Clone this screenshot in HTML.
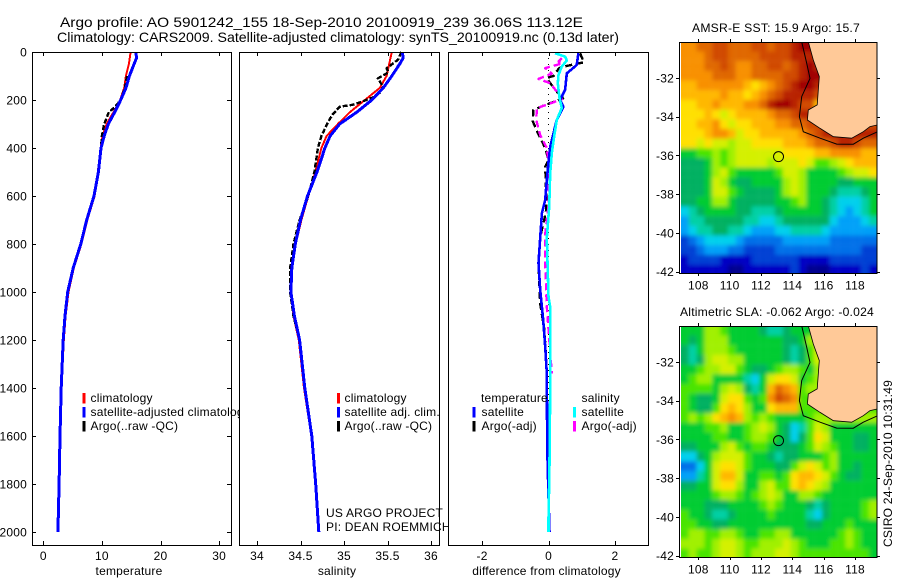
<!DOCTYPE html>
<html>
<head>
<meta charset="utf-8">
<title>Argo profile</title>
<style>
html,body{margin:0;padding:0;background:#fff;width:900px;height:580px;overflow:hidden}
svg{display:block}
text{font-family:"Liberation Sans",sans-serif;font-size:12px;fill:#000;letter-spacing:.2px}
</style>
</head>
<body>
<svg id="chart" xmlns="http://www.w3.org/2000/svg" width="900" height="580" viewBox="0 0 900 580">
<rect x="0" y="0" width="900" height="580" fill="#fff"/>
<text x="60" y="27" style="font-size:14px;letter-spacing:0" textLength="523" lengthAdjust="spacingAndGlyphs">Argo profile: AO 5901242_155 18-Sep-2010 20100919_239 36.06S 113.12E</text>
<text x="57" y="42" style="font-size:14px;letter-spacing:0" textLength="562" lengthAdjust="spacingAndGlyphs">Climatology: CARS2009. Satellite-adjusted climatology: synTS_20100919.nc (0.13d later)</text>
</svg>
<script>
// ---- profile data ----
const depthTicks = [0,200,400,600,800,1000,1200,1400,1600,1800,2000];
const tempTicks = [0,10,20,30];
const salTicks = [34,34.5,35,35.5,36];
const salTickLabels = ['34','34.5','35','35.5','36'];
const diffTicks = [-2,0,2];
const diffTickLabels = ['-2','0','2'];

const tempClimDepth = [0,50,100,150,200,250,300,350,400,500,600,700,800,900,1000,1100,1200,1400,1600,1800];
const tempClim = [14.9,14.6,14.1,13.8,13.1,12,10.8,10.1,9.8,9.3,8.75,7.5,6.5,5.2,4.3,3.8,3.5,3.1,2.85,2.8];
const tempSatDepth = [0,25,50,100,150,200,250,300,350,400,500,600,700,800,900,1000,1100,1200,1400,1600,1800,2000];
const tempSat = [15.8,15.9,15.5,14.7,14.1,13.2,12.2,11.1,10.4,9.85,9.4,8.65,7.4,6.4,5.1,4.17,3.7,3.4,3.05,2.85,2.7,2.5];
const tempArgoDepth = [100,150,200,230,250,275,300,350,400,500,600];
const tempArgo = [14.3,13.9,13.2,12.2,11.2,10.8,10.4,10,9.85,9.4,8.7];

const salClimDepth = [0,50,100,150,200,250,300,350,400,500,600,700,800,900,1000,1100,1200,1400,1600,1800,2000];
const salClim = [35.55,35.52,35.49,35.41,35.24,35.07,34.93,34.8,34.74,34.67,34.59,34.51,34.445,34.405,34.39,34.42,34.48,34.54,34.625,34.67,34.715];
const salSatDepth = [0,25,50,100,150,200,250,300,350,400,500,600,700,800,900,1000,1100,1200,1400,1600,1800,2000];
const salSat = [35.67,35.68,35.64,35.55,35.45,35.32,35.15,34.95,34.84,34.78,34.69,34.58,34.5,34.44,34.4,34.39,34.43,34.49,34.55,34.63,34.675,34.71];
const salArgoDepth = [0,33,68,85,110,145,170,190,205,220,228,260,290,350,400,500,600,700,800,900,1000,1100,1200];
const salArgo = [35.66,35.62,35.49,35.51,35.39,35.45,35.41,35.33,35.22,35.1,34.95,34.87,34.82,34.74,34.7,34.66,34.59,34.49,34.42,34.38,34.38,34.42,34.49];

const diffTempSatDepth = [5,54,89,158,200,228,283,311,395,457,533,617,672,775,879,992,1117,1228,1338,1644,1853,2000];
const diffTempSat = [0.9,0.85,0.55,0.5,0.35,0.45,0.25,0.2,0.05,0,-0.05,-0.1,-0.2,-0.25,-0.3,-0.25,-0.16,-0.1,-0.05,-0.04,0,0.03];
const diffSalSatDepth = [5,19,35,61,96,130,192,233,283,353,422,505,645,775,1020,1062,1400,1715,1950,2000];
const diffSalSat = [0.2,0.5,0.55,0.4,0.3,0.28,0.33,0.4,0.25,0.17,0.1,0.05,0.02,-0.05,0,0.05,0.05,0.03,0,0];
const diffTempArgoDepth = [5,43,58,67,100,108,130,165,193,224,242,290,338,400,450,478,589,658,700,770,880,1050,1160,1340];
const diffTempArgo = [0.95,1.07,0.55,0.32,0.15,-0.05,0.05,0.25,0.44,-0.16,-0.46,-0.47,-0.32,-0.1,0,-0.1,-0.07,-0.07,-0.13,-0.25,-0.3,-0.25,-0.12,-0.05];
const diffSalArgoDepth = [26,40,47,67,90,112,130,165,197,234,283,346,400,457,640,760,880,1060,1155,1340];
const diffSalArgo = [0.4,0.3,0.42,-0.1,0.1,-0.3,0.05,0.25,0.4,-0.35,-0.37,-0.25,-0.05,0,0,-0.1,-0.1,-0.05,0,0.1];
const zeroLineDepth = [0,2000];
const zeroLineValue = [0,0];

// ---- map data: half-degree cells, one character per colour class, from 30.13S and 106.89E ----
const colourClasses = ['#000090','#0000c4','#0040d4','#0070e8','#00a0f8','#00d0ec','#00d0a4','#00b060','#00cc30','#48e400','#a0f000','#d4f000','#ffe000','#ffb800','#f89000','#e06800','#d04800','#b82000','#a00000'];
const classKeys = '0123456789abcdefghi';
const sstRows = [
'eeffggfffggfgghi',
'eeefggffffgggghhh',
'eeeffgfeeffggfghih',
'eeeefffeeffffgghii',
'ddeeeeeedcdefghiih',
'dddddeddcdefghhhhg',
'ccddedddeefhiihggd',
'cccdcbcddddeffgh',
'ccddecbccdddeeffg',
'cccdeedbccdddddefgh',
'ccbcbbabbccccdddeffghhgff',
'8899a9abbbbbbccccddeeeedd',
'7778a9abbbbabbbcb99abcddd',
'7778ab9888889bba88889abbc',
'7778ba8778888aba888877888',
'7778bb9877778aba888766678',
'7788aa877777889a887655568',
'5678888776667888887654568',
'4667777766556777777544456',
'4566776654445566665444444',
'2345555433333444444333333',
'2234443322223333333333322',
'1222211112222221111222222',
'1111110011111121000111121'];
const slaRows = [
'888aa98888766788',
'878aaa8888888778a',
'768aaa98888887679b',
'767abbaa888887679b',
'889aabb987789aa98a',
'89aa8888658bccb89a',
'99998aba768dfed9aa',
'98778bcc989egfe9',
'98779cdca88cddd99',
'9a9acdeda9a988889aa',
'88899a889aba87569ba888888',
'888899889aa987579cb888778',
'77888ab9899877789ba988778',
'5578abbb98876778889a88888',
'3358bccb9888779bcb9a88788',
'4468bddb889989cddcb987788',
'7788bcca88ab99cdcba888888',
'88889aa989aba88aa98888888',
'88877788889a988876788889a',
'988766788889888865788889a',
'9988778888888888778889888',
'9aa99aa98899aa8888889a988',
'aaa9abba99aaaba988899a988',
'9a99abba9aaabba9999999998'];
const coastLon = [115.02,115.34,115.72,115.66,115.59,115.02,114.96,115.77,116.62,117.79,118.53,118.96,119.38];
const coastLat = [30.13,31.07,31.93,32.62,33.39,33.65,34.17,34.6,35.03,35.11,34.77,34.51,34.43];
const shelfLon = [114.6,114.92,115.13,114.6,114.45,114.7,115.77,116.83,117.89,118.53,119.38];
const shelfLat = [30.13,31.24,32.02,32.96,34.0,34.77,35.11,35.41,35.42,35.11,34.8];
const lonTicks = [108,110,112,114,116,118];
const latTicks = [32,34,36,38,40,42];
const argoLon = [113.12];
const argoLat = [36.06];

// ---- drawing ----
const NS = 'http://www.w3.org/2000/svg';
const svg = document.getElementById('chart');
function mk(tag, attrs, parent, txt){
  const e = document.createElementNS(NS, tag);
  for (const k in attrs) e.setAttribute(k, attrs[k]);
  if (txt !== undefined) e.textContent = txt;
  (parent || svg).appendChild(e);
  return e;
}
const yD = d => 52 + 0.24 * d;
const PT = 52, PB = 545;
const xTemp = v => 43.3 + 5.86 * v;
const xSal = v => 257 + 87 * (v - 34);
const xDiff = v => 548.5 + 33.2 * v;

function polyPts(xs, ys, fx, fy){ return xs.map((v,i)=>fx(v).toFixed(1)+','+fy(ys[i]).toFixed(1)).join(' '); }

function panel(name, left, right){
  const g = mk('g', {});
  
  
  const bg = mk('rect', {x:left, y:PT, width:right-left, height:PB-PT, fill:'#fff'}, g);
  
  
  return g;
}
function frame(g, name, left, right){
  const r = mk('rect', {x:left+.5, y:PT+.5, width:right-left, height:PB-PT, fill:'none', stroke:'#000', 'stroke-width':1, 'shape-rendering':'crispEdges'}, g);
  
  
}
function xAxis(g, name, ticks, labels, fx){
  ticks.forEach((v,i)=>{
    const x = Math.round(fx(v)) + .5;
    const t = mk('path', {d:`M${x} ${PT}v4M${x} ${PB}v-4`, stroke:'#000', fill:'none', 'shape-rendering':'crispEdges'}, g);
    
    
    const l = mk('text', {x:fx(v), y:560, 'text-anchor':'middle'}, g, labels[i]);
    
    
  });
}
function line(g, name, xs, ys, fx, color, width, dash){
  const attrs = {points:polyPts(xs, ys, fx, yD), fill:'none', stroke:color, 'stroke-width':width, 'stroke-linejoin':'round', 'shape-rendering':'crispEdges'};
  if (dash) attrs['stroke-dasharray'] = dash;
  const p = mk('polyline', attrs, g);
  
  
}
function legendRow(g, name, barX, textX, y, color, label){
  if (color){
    const b = mk('rect', {x:barX, y:y-5, width:3, height:10.5, fill:color, 'shape-rendering':'crispEdges'}, g);
    
    
  }
  const t = mk('text', {x:textX, y:y+4}, g, label);
  
  
}
function axisLabel(g, name, x, label){
  const t = mk('text', {x:x, y:575, 'text-anchor':'middle'}, g, label);
  
  
}

// temperature
const g1 = panel('temperature', 32, 231);
line(g1, 'temperature-climatology-line', tempClim, tempClimDepth, xTemp, '#f00', 2);
line(g1, 'temperature-argo-line', tempArgo, tempArgoDepth, xTemp, '#000', 2.4, '5 2');
line(g1, 'temperature-satellite-line', tempSat, tempSatDepth, xTemp, '#00f', 3);
frame(g1, 'temperature', 32, 231);
xAxis(g1, 'temperature', tempTicks, tempTicks.map(String), xTemp);
depthTicks.forEach(d=>{
  const y = Math.round(yD(d)) + .5;
  const t = mk('path', {d:`M32 ${y}h4M231 ${y}h-4`, stroke:'#000', fill:'none', 'shape-rendering':'crispEdges'}, g1);
  
  
  const l = mk('text', {x:27, y:yD(d)+4.5, 'text-anchor':'end'}, g1, String(d));
  
  
});
legendRow(g1, 'temperature-climatology', 82.5, 90.5, 398, '#f00', 'climatology');
legendRow(g1, 'temperature-satellite', 82.5, 90.5, 412, '#00f', 'satellite-adjusted climatology');
legendRow(g1, 'temperature-argo', 82.5, 90.5, 426, '#000', 'Argo(..raw -QC)');
axisLabel(g1, 'temperature', 129, 'temperature');

// salinity
const g2 = panel('salinity', 239, 439);
line(g2, 'salinity-climatology-line', salClim, salClimDepth, xSal, '#f00', 2);
line(g2, 'salinity-argo-line', salArgo, salArgoDepth, xSal, '#000', 2.4, '5 2');
line(g2, 'salinity-satellite-line', salSat, salSatDepth, xSal, '#00f', 3);
frame(g2, 'salinity', 239, 439);
xAxis(g2, 'salinity', salTicks, salTickLabels, xSal);
legendRow(g2, 'salinity-climatology', 337, 344.5, 398, '#f00', 'climatology');
legendRow(g2, 'salinity-satellite', 337, 344.5, 412, '#00f', 'satellite adj. clim.');
legendRow(g2, 'salinity-argo', 337, 344.5, 426, '#000', 'Argo(..raw -QC)');
axisLabel(g2, 'salinity', 337, 'salinity');
const us = mk('text', {x:326, y:517}, g2, 'US ARGO PROJECT');


const pi = mk('text', {x:326, y:531}, g2, 'PI: DEAN ROEMMICH');



// difference
const g3 = panel('difference', 448, 648);
line(g3, 'zero-reference-line', zeroLineValue, zeroLineDepth, xDiff, '#000', 1, '1 5');
line(g3, 'difference-temperature-argo-line', diffTempArgo, diffTempArgoDepth, xDiff, '#000', 2.4, '7 4');
line(g3, 'difference-salinity-argo-line', diffSalArgo, diffSalArgoDepth, xDiff, '#f0f', 2.4, '7 4');
line(g3, 'difference-temperature-satellite-line', diffTempSat, diffTempSatDepth, xDiff, '#00f', 2.6);
line(g3, 'difference-salinity-satellite-line', diffSalSat, diffSalSatDepth, xDiff, '#0ff', 2.6);
frame(g3, 'difference', 448, 648);
xAxis(g3, 'difference', diffTicks, diffTickLabels, xDiff);
legendRow(g3, 'difference-temperature-heading', 0, 481, 398, null, 'temperature');
legendRow(g3, 'difference-temperature-satellite', 472.5, 481.5, 412, '#00f', 'satellite');
legendRow(g3, 'difference-temperature-argo', 472.5, 481.5, 426, '#000', 'Argo(-adj)');
legendRow(g3, 'difference-salinity-heading', 0, 581.5, 398, null, 'salinity');
legendRow(g3, 'difference-salinity-satellite', 573, 581.5, 412, '#0ff', 'satellite');
legendRow(g3, 'difference-salinity-argo', 573, 581.5, 426, '#f0f', 'Argo(-adj)');
axisLabel(g3, 'difference', 546.5, 'difference from climatology');

// maps
const xLon = v => 698.3 + 15.67 * (v - 108);
function drawMap(name, rows, top, bottom, lat32Y, title, titleX, titleLen, titleY){
  const yLat = v => lat32Y + 19.37 * (v - 32);
  const g = mk('g', {});
  
  
  const clipId = name + '-clip';
  const cp = mk('clipPath', {id:clipId}, g);
  mk('rect', {x:681, y:top, width:196, height:bottom-top}, cp);
  const blurId = name + '-soft';
  const fl = mk('filter', {id:blurId, filterUnits:'userSpaceOnUse', x:640, y:top-40, width:280, height:bottom-top+80}, g);
  mk('feGaussianBlur', {stdDeviation:2.2}, fl);
  const clipG = mk('g', {'clip-path':`url(#${clipId})`}, g);
  
  
  const cellsG = mk('g', {filter:`url(#${blurId})`}, clipG);
  rows.forEach((row, r)=>{
    [...row].forEach((ch, c)=>{
      let x0 = xLon(106.89 + c * 0.5), y0 = yLat(30.13 + r * 0.5);
      let w = 7.95, h = 9.8;
      if (c === 0) { x0 -= 20; w += 20; }
      if (c === row.length - 1) { w += 220; }
      if (r === 0) { y0 -= 20; h += 20; }
      if (r === rows.length - 1) { h += 20; }
      const cell = mk('rect', {x:x0.toFixed(2), y:y0.toFixed(2), width:w, height:h, fill:colourClasses[classKeys.indexOf(ch)]}, cellsG);
      
      
    });
  });
  const landLon = coastLon.concat([119.6,119.6]);
  const landLat = coastLat.concat([30,30]);
  const poly = mk('polygon', {points:polyPts(landLon, landLat, xLon, yLat), fill:'#ffc998', 'clip-path':`url(#${clipId})`}, g);
  
  
  const c1 = mk('polyline', {points:polyPts(coastLon, coastLat, xLon, yLat), fill:'none', stroke:'#000', 'stroke-width':.8, 'clip-path':`url(#${clipId})`}, g);
  
  
  const c2 = mk('polyline', {points:polyPts(shelfLon, shelfLat, xLon, yLat), fill:'none', stroke:'#000', 'stroke-width':1, 'clip-path':`url(#${clipId})`}, g);
  
  
  const m = mk('circle', {cx:xLon(argoLon[0]), cy:yLat(argoLat[0]), r:5, fill:'none', stroke:'#000', 'stroke-width':1}, g);
  
  
  const f = mk('rect', {x:679.5, y:top+.5, width:197.5, height:bottom-top, fill:'none', stroke:'#000', 'shape-rendering':'crispEdges'}, g);
  
  
  lonTicks.forEach(v=>{
    const x = Math.round(xLon(v)) + .5;
    const t = mk('path', {d:`M${x} ${top}v-3M${x} ${bottom}v3`, stroke:'#000', fill:'none', 'shape-rendering':'crispEdges'}, g);
    
    
    const l = mk('text', {x:xLon(v), y:bottom+16.5, 'text-anchor':'middle'}, g, String(v));
    
    
  });
  latTicks.forEach(v=>{
    const y = Math.round(yLat(v)) + .5;
    const t = mk('path', {d:`M679 ${y}h-3M877 ${y}h3`, stroke:'#000', fill:'none', 'shape-rendering':'crispEdges'}, g);
    
    
    const l = mk('text', {x:674, y:yLat(v)+4.5, 'text-anchor':'end'}, g, '-' + v);
    
    
  });
  const tt = mk('text', {x:titleX, y:titleY, textLength:titleLen, lengthAdjust:'spacingAndGlyphs'}, g, title);
  
  
}
drawMap('sst', sstRows, 42, 273, 78, 'AMSR-E SST: 15.9 Argo: 15.7', 692, 168, 32);
drawMap('sla', slaRows, 326, 557, 362, 'Altimetric SLA: -0.062 Argo: -0.024', 680, 194, 316);

const stamp = mk('text', {x:0, y:0, transform:'translate(892,547) rotate(-90)', textLength:167, lengthAdjust:'spacingAndGlyphs'}, svg, 'CSIRO 24-Sep-2010 10:31:49');


</script>
</body>
</html>
